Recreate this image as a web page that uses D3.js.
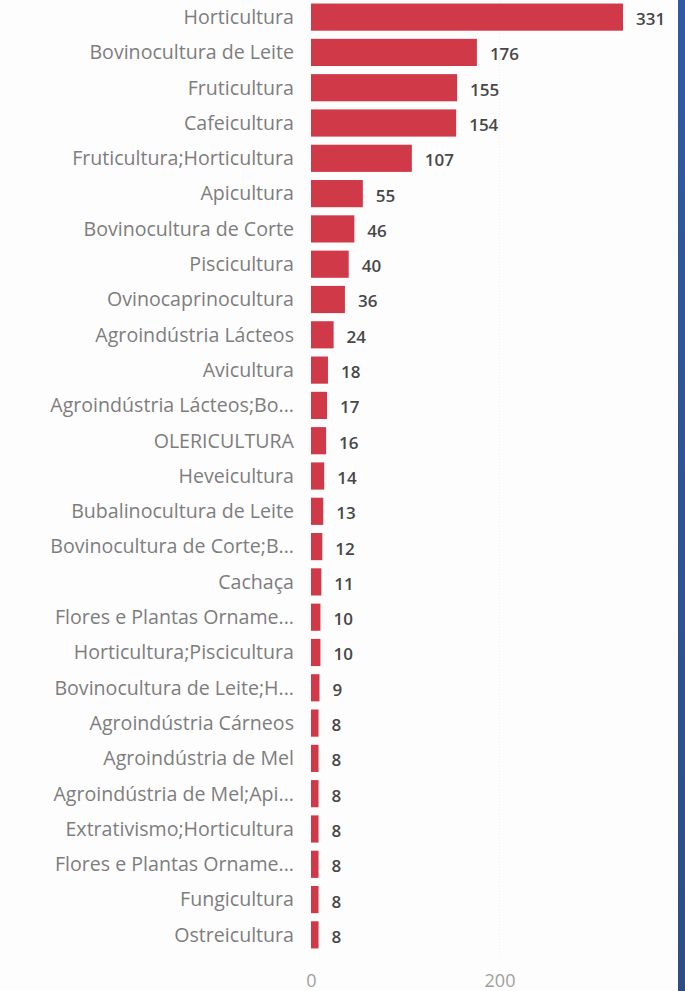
<!DOCTYPE html>
<html>
<head>
<meta charset="utf-8">
<script src="https://cdn.jsdelivr.net/npm/d3@7"></script>
<style>
  html, body { margin: 0; padding: 0; background: #fdfdfd; }
  svg { display: block; }
</style>
</head>
<body>
<svg id="chart" width="685" height="991"></svg>
<script>
// Number of properties per production activity
const categories = [
  "Horticultura",
  "Bovinocultura de Leite",
  "Fruticultura",
  "Cafeicultura",
  "Fruticultura;Horticultura",
  "Apicultura",
  "Bovinocultura de Corte",
  "Piscicultura",
  "Ovinocaprinocultura",
  "Agroindústria Lácteos",
  "Avicultura",
  "Agroindústria Lácteos;Bo...",
  "OLERICULTURA",
  "Heveicultura",
  "Bubalinocultura de Leite",
  "Bovinocultura de Corte;B...",
  "Cachaça",
  "Flores e Plantas Orname...",
  "Horticultura;Piscicultura",
  "Bovinocultura de Leite;H...",
  "Agroindústria Cárneos",
  "Agroindústria de Mel",
  "Agroindústria de Mel;Api...",
  "Extrativismo;Horticultura",
  "Flores e Plantas Orname...",
  "Fungicultura",
  "Ostreicultura"
];
const values = [331, 176, 155, 154, 107, 55, 46, 40, 36, 24, 18, 17, 16, 14, 13, 12, 11, 10, 10, 9, 8, 8, 8, 8, 8, 8, 8];
const tickValues = [0, 200];

const svg = d3.select("#chart");
const W = 685, H = 991;

// Blue frame strip on the right edge
const defs = svg.append("defs");
const grad = defs.append("linearGradient").attr("id", "edge").attr("x1", 0).attr("y1", 0).attr("x2", 0).attr("y2", 1);
grad.append("stop").attr("offset", "0%").attr("stop-color", "#2f5aa3");
grad.append("stop").attr("offset", "100%").attr("stop-color", "#2e4d84");
svg.append("rect").attr("x", 678).attr("y", 0).attr("width", 7).attr("height", H).attr("fill", "url(#edge)");

const x = d3.scaleLinear().domain([0, 331]).range([311, 623]);
const idx = d3.range(categories.length);
const y = d3.scaleBand().domain(idx).range([0, 952]).paddingInner(0.23).paddingOuter(0.1);

// Faint gridline
svg.append("g")
  .selectAll("line")
  .data(tickValues.filter(d => d > 0))
  .join("line")
  .attr("x1", d => x(d)).attr("x2", d => x(d))
  .attr("y1", 0).attr("y2", 955)
  .attr("stroke", "#eeeeee")
  .attr("stroke-dasharray", "1,2");

// Bars
svg.append("g")
  .selectAll("rect")
  .data(idx)
  .join("rect")
  .attr("x", x(0))
  .attr("y", i => y(i))
  .attr("width", i => x(values[i]) - x(0))
  .attr("height", y.bandwidth())
  .attr("fill", "#d03a48");

// Category labels
svg.append("g")
  .selectAll("text")
  .data(idx)
  .join("text")
  .attr("x", 294)
  .attr("y", i => y(i) + y.bandwidth() / 2)
  .attr("dy", "0.35em")
  .attr("text-anchor", "end")
  .attr("font-family", "'Open Sans', sans-serif")
  .attr("font-size", 19.6)
  .attr("fill", "#7d7d7d")
  .text(i => categories[i]);

// Value labels
svg.append("g")
  .selectAll("text")
  .data(idx)
  .join("text")
  .attr("x", i => x(values[i]) + 13)
  .attr("y", i => y(i) + y.bandwidth() / 2 + 2)
  .attr("dy", "0.35em")
  .attr("font-family", "'Open Sans', sans-serif")
  .attr("font-weight", 600)
  .attr("font-size", 17)
  .attr("fill", "#474747")
  .text(i => values[i]);

// X axis
const axis = d3.axisBottom(x).tickValues(tickValues).tickSize(0).tickPadding(0);
const gx = svg.append("g").attr("transform", "translate(0,974)").call(axis);
gx.select(".domain").remove();
gx.selectAll("text")
  .attr("font-family", "'Open Sans', sans-serif")
  .attr("font-size", 18)
  .attr("fill", "#a0a0a0");
</script>
</body>
</html>
